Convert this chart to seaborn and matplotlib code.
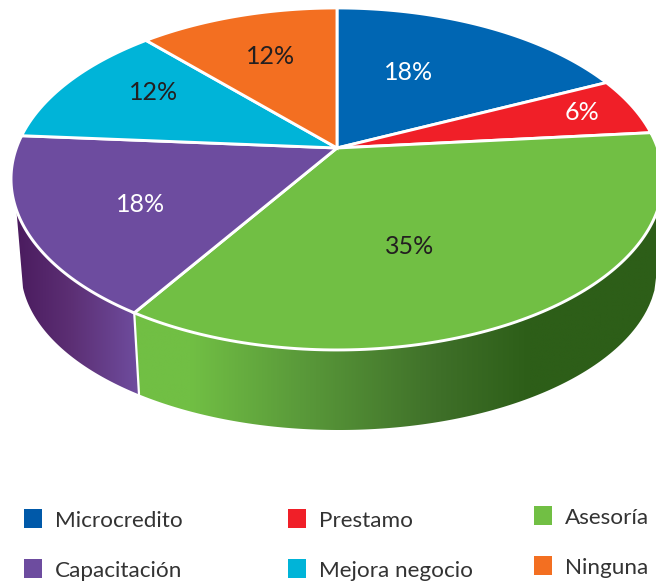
import numpy as np
import matplotlib
matplotlib.use("Agg")
import matplotlib.pyplot as plt
import seaborn as sns
from matplotlib.colors import LinearSegmentedColormap
from matplotlib.patches import Polygon, Rectangle
from matplotlib.path import Path
from matplotlib.transforms import Affine2D, Transform

categories = ["Microcredito", "Prestamo", "Asesoría", "Capacitación", "Mejora negocio", "Ninguna"]
values = [18.0, 5.5, 35.5, 17.2, 12.0, 11.8]
percent_labels = ["18%", "6%", "35%", "18%", "12%", "12%"]
slice_colors = ["#0066B3", "#F01F28", "#71BF44", "#6D4C9F", "#00B4D8", "#F36F21"]
legend_colors = ["#0059A9", "#F01F28", "#71BF44", "#6D4C9F", "#00B4D8", "#F36F21"]
label_colors = ["white", "white", "#231F20", "white", "#231F20", "#231F20"]
label_xy = [(409, 72), (582, 112), (410, 246), (141, 204), (154, 92), (271, 56)]
legend_xy = [(24, 509), (288, 509), (534, 506), (24, 559), (288, 559), (534, 556)]

sns.set_theme(style="white")
plt.rcParams["font.family"] = ["Lato", "DejaVu Sans"]
palette = sns.color_palette(slice_colors)

CX, CY, A, B, K = 337.0, 148.0, 320.6, 165.4, 0.181


class Perspective(Transform):
    input_dims = output_dims = 2
    is_separable = False
    has_inverse = False

    def transform_non_affine(self, values):
        xy = np.asarray(values, dtype=float)
        d = 1 + K * xy[:, 1]
        return np.column_stack([CX + A * xy[:, 0] / d, CY - B * xy[:, 1] / d])

    def transform_path_non_affine(self, path):
        fine = path.transformed(Affine2D().scale(2000)).to_polygons(closed_only=True)
        pts = np.vstack(fine) / 2000
        return Path(self.transform_non_affine(pts), closed=True)


persp = Perspective()


def rim(a0, a1, n=200):
    t = np.radians(np.linspace(a0, a1, n))
    return persp.transform_non_affine(np.column_stack([np.cos(t), np.sin(t)]))


def base(x0, x1, n=200):
    x = np.linspace(x0, x1, n)
    return np.column_stack([x, 270 + 160 * np.sqrt(np.clip(1 - ((x - 339) / 318) ** 2, 0, 1))])


fig = plt.figure(figsize=(6.56, 5.84), dpi=100, facecolor="white")
ax = fig.add_axes([0, 0, 1, 1])

wedges, _ = ax.pie(values, colors=palette, startangle=90, counterclock=False, radius=1,
                   wedgeprops=dict(edgecolor="white", linewidth=2.1, joinstyle="miter"))
for w in wedges:
    w.set_transform(persp + ax.transData)
    w.set_zorder(5)

ax.set_aspect("auto")
ax.set_xlim(0, 656)
ax.set_ylim(584, 0)
ax.axis("off")

split = wedges[2].theta1  # boundary green / purple on the near side
purple_wall = np.vstack([rim(-159.5, split), base(139, 23)])
green_wall = np.vstack([rim(split, -3), base(657, 139)])

purple_cmap = LinearSegmentedColormap.from_list(
    "p", [(0, "#4A1B5E"), (0.45, "#5C2F74"), (1, "#6F4D9F")])
x_span = (130.0, 660.0)
stops = [(130, "#71BF44"), (190, "#71BF44"), (300, "#5A9A3A"), (436, "#3F7029"),
         (530, "#2D5E18"), (660, "#2D5E18")]
green_cmap = LinearSegmentedColormap.from_list(
    "g", [((x - x_span[0]) / (x_span[1] - x_span[0]), c) for x, c in stops])

grad = np.linspace(0, 1, 512).reshape(1, -1)
for poly, cmap, ext in [(purple_wall, purple_cmap, (15, 140, 420, 200)),
                        (green_wall, green_cmap, (x_span[0], x_span[1], 440, 200))]:
    im = ax.imshow(grad, cmap=cmap, extent=ext, aspect="auto", interpolation="bilinear", zorder=2)
    clip = Polygon(poly, closed=True, transform=ax.transData, facecolor="none", edgecolor="none")
    ax.add_patch(clip)
    im.set_clip_path(clip)
ax.set_xlim(0, 656)
ax.set_ylim(584, 0)

p0 = rim(split, split, 1)[0]
ax.plot([p0[0], 139], [p0[1], base(139, 139, 1)[0, 1]], color="white", lw=1.6, zorder=3)

for txt, (x, y), c in zip(percent_labels, label_xy, label_colors):
    ax.text(x, y, txt, color=c, fontsize=18, ha="center", va="center", zorder=6)

for name, (x, y), c in zip(categories, legend_xy, legend_colors):
    ax.add_patch(Rectangle((x, y), 18, 19, facecolor=c, edgecolor="none", zorder=6))
    ax.text(x + 31, y + 12, name, color="#333333", fontsize=16.2, ha="left", va="center", zorder=6)

fig.savefig("out.png", dpi=100, facecolor="white")
